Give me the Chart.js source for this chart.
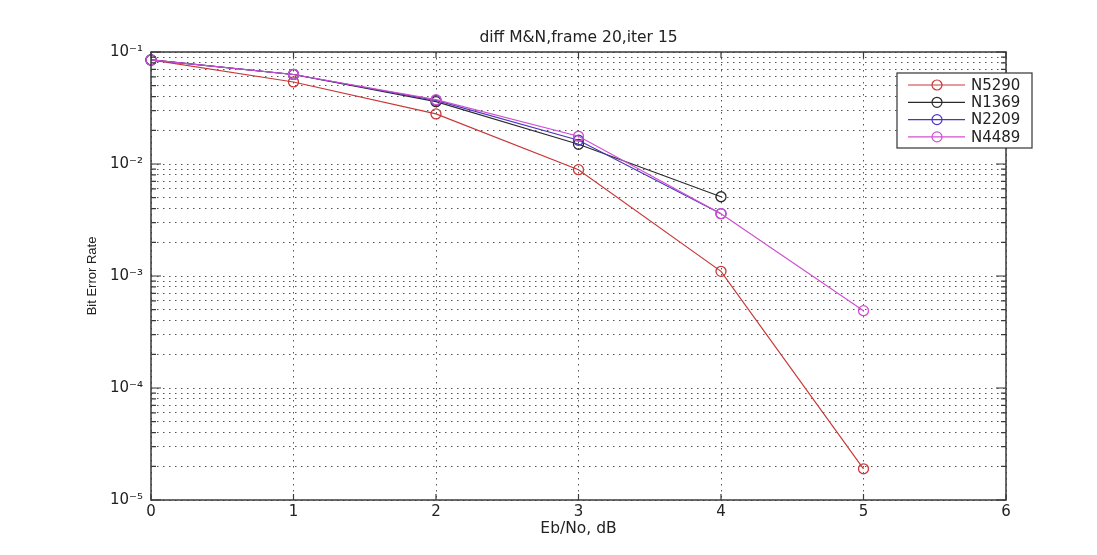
<!DOCTYPE html>
<html>
<head>
<meta charset="utf-8">
<script src="https://cdn.jsdelivr.net/npm/chart.js@4.4.1/dist/chart.umd.min.js"></script>
<style>
  html, body { margin: 0; padding: 0; background: #fff; }
  canvas { display: block; }
</style>
</head>
<body>
<canvas id="berChart" width="1097" height="555"></canvas>
<script>
// BER vs Eb/No for different code lengths
const ebno = [0, 1, 2, 3, 4, 5];
const n5290 = [0.085, 0.054, 0.028, 0.0089, 0.0011, 0.000019];
const n1369 = [0.085, 0.063, 0.036, 0.0150, 0.0051];
const n2209 = [0.085, 0.063, 0.037, 0.0163, 0.0036];
const n4489 = [0.085, 0.063, 0.0375, 0.0177, 0.0036, 0.00049];

const seriesNames = ['N5290', 'N1369', 'N2209', 'N4489'];
const seriesValues = [n5290, n1369, n2209, n4489];
const seriesColors = ['#c83838', '#2a2a2a', '#4a36c0', '#d050d0'];

const xTicks = [0, 1, 2, 3, 4, 5, 6];
const yDecades = [1e-5, 1e-4, 1e-3, 1e-2, 1e-1];
const yTickLabels = ['10⁻⁵', '10⁻⁴', '10⁻³', '10⁻²', '10⁻¹'];

// decade + minor (2..9) grid positions for the log axis
const yGrid = [];
yDecades.forEach((d, i) => {
    yGrid.push(d);
    if (i < yDecades.length - 1) {
        for (let m = 2; m <= 9; m++) yGrid.push(+(d * m).toPrecision(3));
    }
});

const textColor = '#222';
const gridColor = '#555';

// box around the axes + inward tick marks (matlab look)
const framePlugin = {
    id: 'frame',
    afterDatasetsDraw(chart) {
        const { ctx, chartArea: a, scales: { x, y } } = chart;
        ctx.save();
        ctx.strokeStyle = '#3a3a3a';
        ctx.lineWidth = 1.5;
        ctx.strokeRect(a.left, a.top, a.right - a.left, a.bottom - a.top);
        ctx.lineWidth = 1.2;
        ctx.beginPath();
        xTicks.forEach(v => {
            const px = x.getPixelForValue(v);
            ctx.moveTo(px, a.bottom); ctx.lineTo(px, a.bottom - 6);
            ctx.moveTo(px, a.top); ctx.lineTo(px, a.top + 6);
        });
        yGrid.forEach(v => {
            const py = y.getPixelForValue(v);
            const len = yDecades.includes(v) ? 10 : 5;
            ctx.moveTo(a.left, py); ctx.lineTo(a.left + len, py);
            ctx.moveTo(a.right, py); ctx.lineTo(a.right - len, py);
        });
        ctx.stroke();
        ctx.restore();
    }
};

// boxed legend in the upper right, line + circle sample
const legendPlugin = {
    id: 'boxLegend',
    afterDraw(chart) {
        const { ctx, chartArea: a } = chart;
        const bx = a.right - 109, by = a.top + 21, bw = 135, bh = 75;
        ctx.save();
        ctx.fillStyle = '#fff';
        ctx.fillRect(bx, by, bw, bh);
        ctx.strokeStyle = '#333';
        ctx.lineWidth = 1.2;
        ctx.strokeRect(bx, by, bw, bh);
        ctx.font = '15px "DejaVu Sans"';
        ctx.textBaseline = 'middle';
        chart.data.datasets.forEach((ds, i) => {
            const ry = by + 12 + i * 17.3;
            ctx.strokeStyle = ds.borderColor;
            ctx.lineWidth = 1.2;
            ctx.beginPath();
            ctx.moveTo(bx + 11, ry); ctx.lineTo(bx + 68, ry);
            ctx.stroke();
            ctx.beginPath();
            ctx.arc(bx + 40, ry, 5, 0, Math.PI * 2);
            ctx.stroke();
            ctx.fillStyle = textColor;
            ctx.fillText(ds.label, bx + 74, ry + 1);
        });
        ctx.restore();
    }
};

const datasets = seriesNames.map((name, i) => ({
    label: name,
    data: seriesValues[i].map((v, j) => ({ x: ebno[j], y: v })),
    borderColor: seriesColors[i],
    backgroundColor: 'transparent',
    borderWidth: 1.2,
    pointRadius: 5,
    pointBorderWidth: 1.3,
    pointBackgroundColor: 'transparent',
    pointBorderColor: seriesColors[i],
    tension: 0,
    clip: false,
    order: [3, 2, 1, 0][i]
}));

new Chart(document.getElementById('berChart').getContext('2d'), {
    type: 'line',
    data: { datasets },
    options: {
        responsive: false,
        animation: false,
        devicePixelRatio: 1,
        layout: { padding: { left: 0, right: 91, top: 0, bottom: 0 } },
        plugins: {
            legend: { display: false },
            tooltip: { enabled: false },
            title: {
                display: true,
                fullSize: false,
                text: 'diff M&N,frame 20,iter 15',
                color: textColor,
                font: { family: 'DejaVu Sans', size: 15.5, weight: 'normal' },
                padding: { top: 28.7, bottom: 4.7 }
            }
        },
        scales: {
            x: {
                type: 'linear',
                min: 0,
                max: 6,
                afterBuildTicks: s => { s.ticks = xTicks.map(v => ({ value: v })); },
                afterFit: s => { s.height = 55; },
                ticks: { padding: 3, color: textColor, font: { family: 'DejaVu Sans', size: 15 } },
                grid: { color: gridColor, drawTicks: false, lineWidth: 1 },
                border: { display: false, dash: [1.5, 4.5] },
                title: {
                    display: true,
                    text: 'Eb/No, dB',
                    color: textColor,
                    font: { family: 'DejaVu Sans', size: 15.5 },
                    padding: { top: 0, bottom: 17 }
                }
            },
            y: {
                type: 'logarithmic',
                min: 1e-5,
                max: 1e-1,
                afterBuildTicks: s => { s.ticks = yGrid.map(v => ({ value: v, major: yDecades.includes(v) })); },
                afterFit: s => { s.width = 151; },
                ticks: {
                    autoSkip: false,
                    padding: 8,
                    color: textColor,
                    font: { family: 'DejaVu Sans', size: 15 },
                    callback: v => {
                        const k = yDecades.indexOf(v);
                        return k >= 0 ? yTickLabels[k] : '';
                    }
                },
                grid: { color: gridColor, drawTicks: false, lineWidth: 1 },
                border: { display: false, dash: [1.5, 4.5] },
                title: {
                    display: true,
                    text: 'Bit Error Rate',
                    color: textColor,
                    font: { family: 'Liberation Sans', size: 13 },
                    padding: { top: 85, bottom: 0 }
                }
            }
        }
    },
    plugins: [framePlugin, legendPlugin]
});
</script>
</body>
</html>
